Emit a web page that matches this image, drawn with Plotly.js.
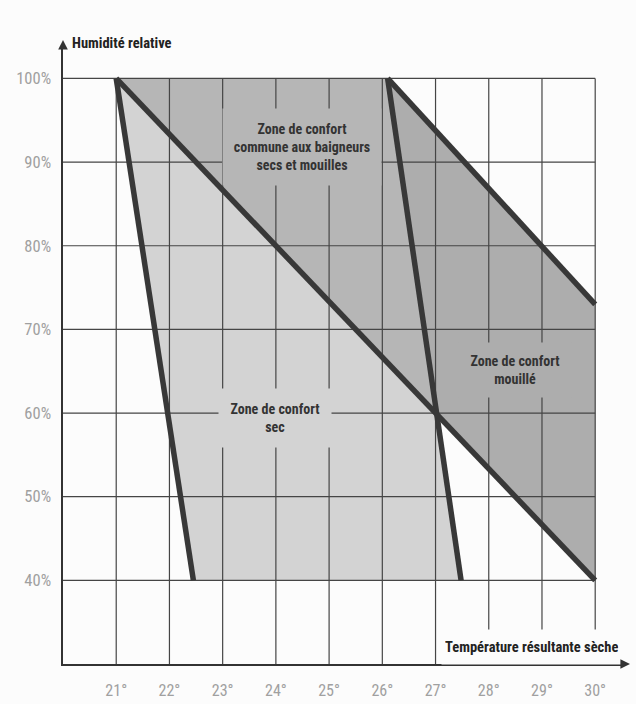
<!DOCTYPE html>
<html>
<head>
<meta charset="utf-8">
<script src="https://cdn.plot.ly/plotly-3.0.1.min.js"></script>
<style>
  html, body { margin: 0; padding: 0; background: #fcfcfc; }
  #chart { width: 636px; height: 704px; }
</style>
</head>
<body>
<div id="chart"></div>
<script>
// ---- Data ----
const tempTicks = [21, 22, 23, 24, 25, 26, 27, 28, 29, 30];
const tempTickLabels = ['21°', '22°', '23°', '24°', '25°', '26°', '27°', '28°', '29°', '30°'];
const humTicks = [40, 50, 60, 70, 80, 90, 100];
const humTickLabels = ['40%', '50%', '60%', '70%', '80%', '90%', '100%'];

// Zone polygons (temperature °C, relative humidity %)
const zoneDryT = [21, 26.1, 27.48, 22.45, 21];
const zoneDryH = [100, 100, 40, 40, 100];
const zoneWetT = [21, 26.1, 30, 30, 21];
const zoneWetH = [100, 100, 73, 40, 100];
const zoneCommonT = [21, 26.1, 27.05, 21];
const zoneCommonH = [100, 100, 59.7, 100];

// Boundary lines
const lineDryLeftT = [21, 22.45];
const lineDryLeftH = [100, 40];
const lineDryRightT = [26.1, 27.48];
const lineDryRightH = [100, 40];
const lineWetLowT = [21, 30];
const lineWetLowH = [100, 40];
const lineWetHighT = [26.1, 30];
const lineWetHighH = [100, 73];

// Grid extent
const gridTMin = 20, gridTMax = 30;
const gridHMin = 30, gridHMax = 100;
const axisTMax = 30.56, axisHMax = 104;

// ---- Build traces ----
const gx = [], gy = [];
tempTicks.forEach(t => { gx.push(t, t, null); gy.push(gridHMin, gridHMax, null); });
humTicks.forEach(h => { gx.push(gridTMin, gridTMax, null); gy.push(h, h, null); });

const C_DRY = '#d3d3d3', C_WET = '#adadad', C_COMMON = '#b6b6b6', C_LINE = '#383838';

function poly(x, y, color) {
  return { x, y, type: 'scatter', mode: 'lines', fill: 'toself', fillcolor: color,
           line: { width: 0, color: color }, hoverinfo: 'skip', showlegend: false };
}
function thick(x, y) {
  return { x, y, type: 'scatter', mode: 'lines', line: { width: 5.5, color: C_LINE },
           hoverinfo: 'skip', showlegend: false };
}

const traces = [
  poly(zoneDryT, zoneDryH, C_DRY),
  poly(zoneWetT, zoneWetH, C_WET),
  poly(zoneCommonT, zoneCommonH, C_COMMON),
  { x: gx, y: gy, type: 'scatter', mode: 'lines', line: { width: 1.2, color: '#454545' },
    hoverinfo: 'skip', showlegend: false, connectgaps: false },
  thick(lineDryLeftT, lineDryLeftH),
  thick(lineDryRightT, lineDryRightH),
  thick(lineWetLowT, lineWetLowH),
  thick(lineWetHighT, lineWetHighH)
];

const FONT = '"Roboto Condensed", "Liberation Sans Narrow", "Arial Narrow", Roboto, sans-serif';
const labelFont = { family: FONT, size: 14, color: '#333333', weight: 'bold' };

const layout = {
  width: 636, height: 704,
  margin: { l: 63, r: 11, t: 45, b: 40 },
  paper_bgcolor: '#fcfcfc',
  plot_bgcolor: '#fcfcfc',
  showlegend: false,
  xaxis: {
    range: [gridTMin, axisTMax], fixedrange: true,
    tickvals: tempTicks, ticktext: tempTickLabels,
    showgrid: false, zeroline: false,
    showline: true, linecolor: '#333333', linewidth: 1.6,
    ticks: 'outside', ticklen: 11, tickcolor: 'rgba(0,0,0,0)',
    tickfont: { family: FONT, size: 16, color: '#a0a0a0' }
  },
  yaxis: {
    range: [gridHMin, axisHMax], fixedrange: true,
    tickvals: humTicks, ticktext: humTickLabels,
    showgrid: false, zeroline: false,
    showline: true, linecolor: '#333333', linewidth: 1.6,
    ticks: 'outside', ticklen: 7, tickcolor: 'rgba(0,0,0,0)',
    tickfont: { family: FONT, size: 16.5, color: '#a0a0a0' }
  },
  annotations: [
    { x: 24.49, y: 91.8, xref: 'x', yref: 'y', showarrow: false,
      text: 'Zone de confort<br>commune aux baigneurs<br>secs et mouilles',
      font: labelFont, bgcolor: C_COMMON, width: 152, height: 70, borderpad: 3, align: 'center' },
    { x: 23.98, y: 59.4, xref: 'x', yref: 'y', showarrow: false,
      text: 'Zone de confort<br>sec',
      font: labelFont, bgcolor: C_DRY, width: 106, height: 52, borderpad: 3, align: 'center' },
    { x: 28.49, y: 65.2, xref: 'x', yref: 'y', showarrow: false,
      text: 'Zone de confort<br>mouillé',
      font: labelFont, bgcolor: C_WET, width: 106, height: 48, borderpad: 3, align: 'center' },
    { x: 30.5, y: 32.0, xref: 'x', yref: 'y', xanchor: 'right', showarrow: false,
      text: 'Température résultante sèche',
      font: { family: FONT, size: 14.5, color: '#222222', weight: 'bold' },
      bgcolor: '#fcfcfc', height: 28, borderpad: 3 },
    { x: gridTMin, y: axisHMax, xref: 'x', yref: 'y', xanchor: 'left', yanchor: 'middle', showarrow: false,
      text: 'Humidité relative', xshift: 7, yshift: 2,
      font: { family: FONT, size: 14.5, color: '#222222', weight: 'bold' } },
    // axis arrowheads
    { x: gridTMin, y: axisHMax, xref: 'x', yref: 'y', showarrow: true, text: '',
      ax: 0, ay: 8, arrowhead: 2, arrowsize: 1.2, arrowwidth: 1.6, arrowcolor: '#333333', yshift: 5 },
    { x: axisTMax, y: gridHMin, xref: 'x', yref: 'y', showarrow: true, text: '',
      ax: -8, ay: 0, arrowhead: 2, arrowsize: 1.2, arrowwidth: 1.6, arrowcolor: '#333333', xshift: 5 }
  ]
};

Plotly.newPlot('chart', traces, layout, { displayModeBar: false, staticPlot: true });
</script>
</body>
</html>
